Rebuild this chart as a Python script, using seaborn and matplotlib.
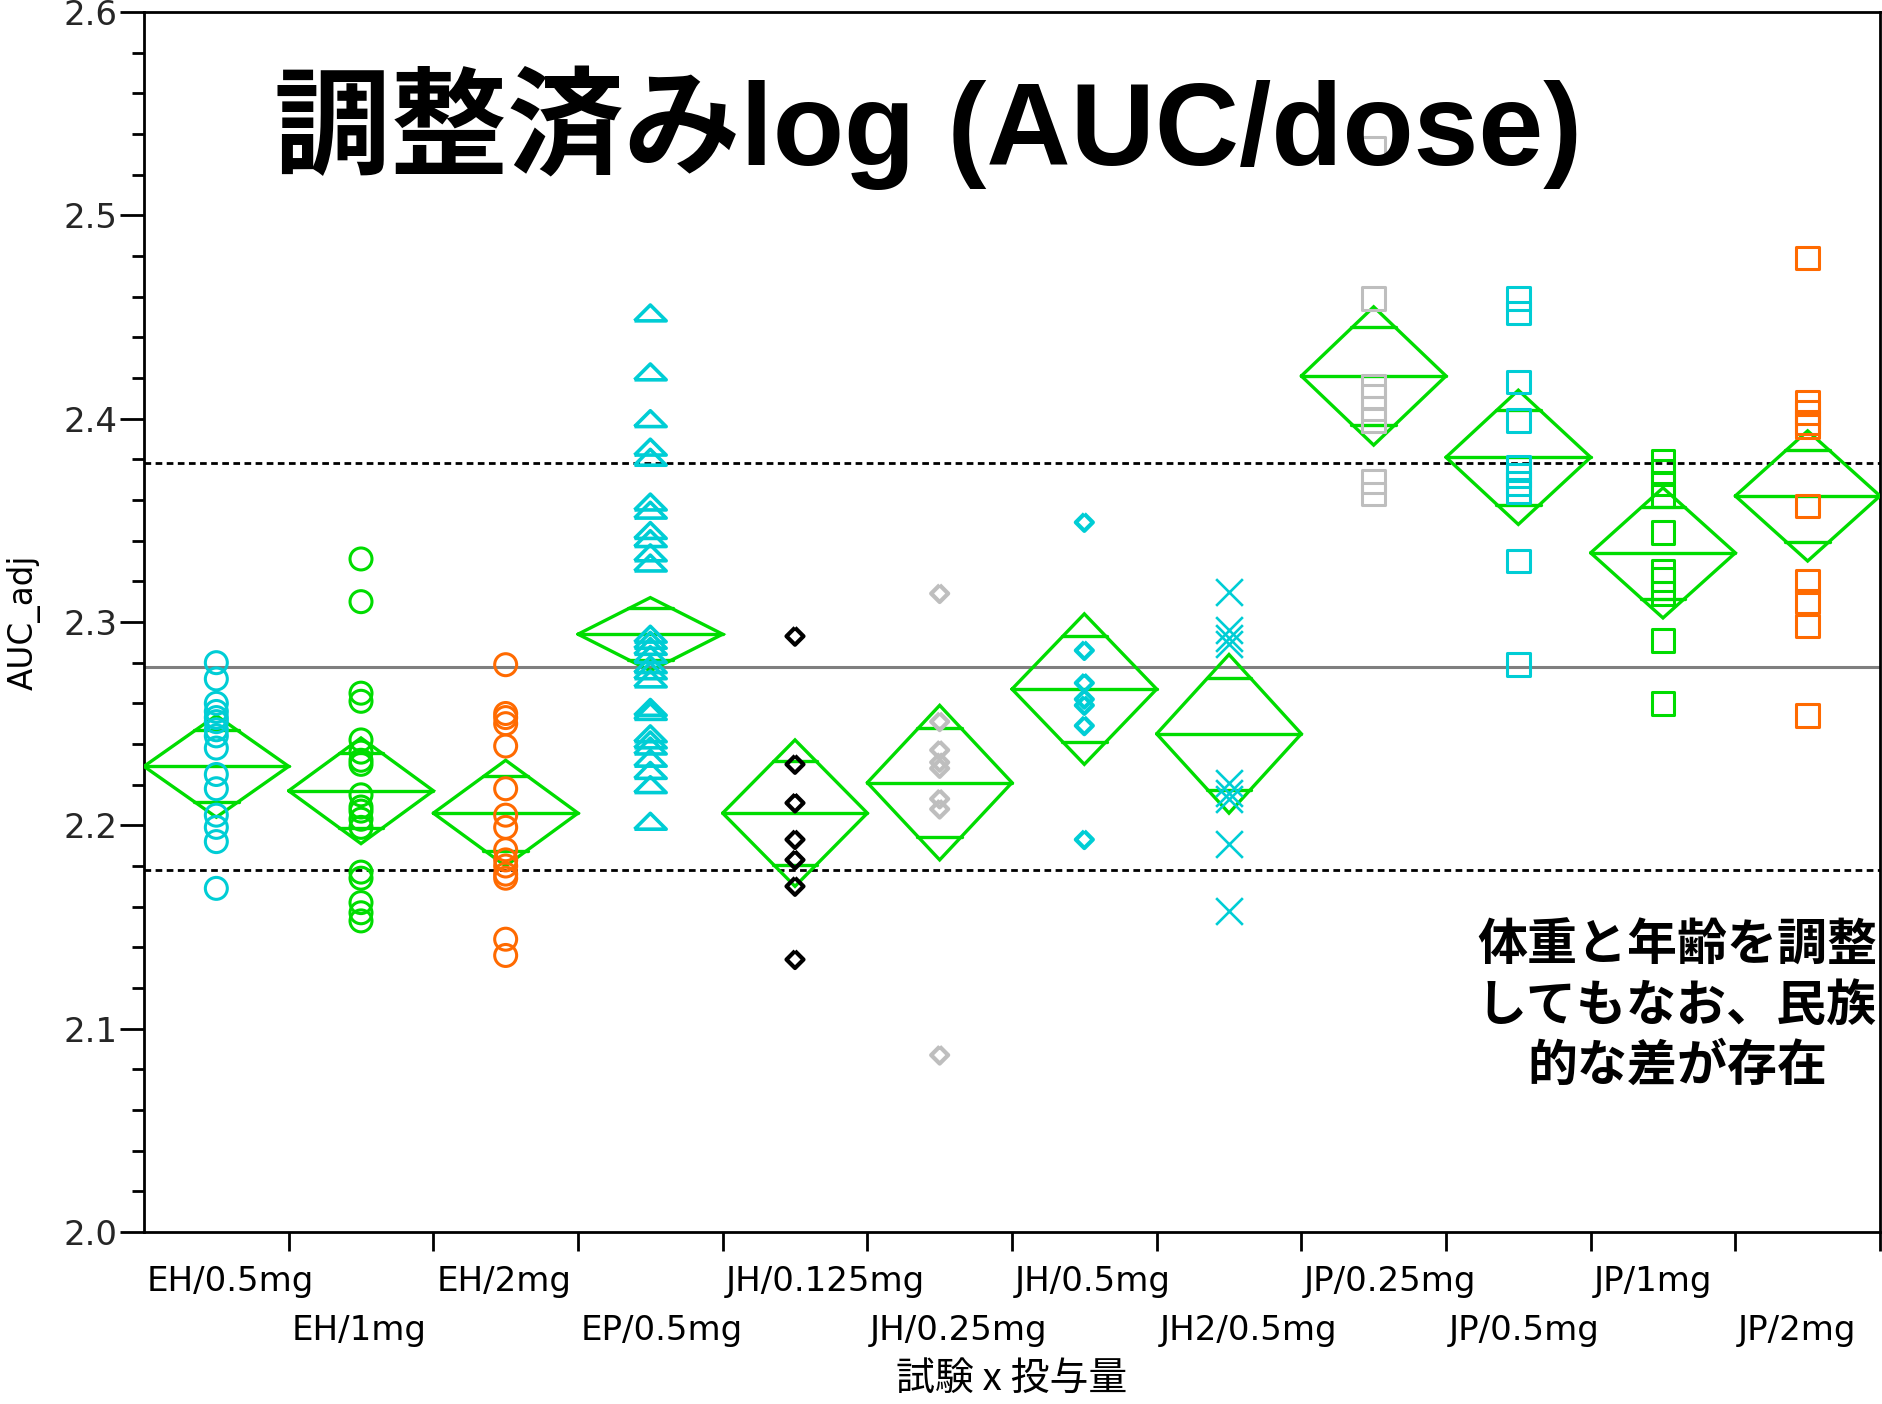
import numpy as np
import pandas as pd
import matplotlib
matplotlib.use("Agg")
import matplotlib.pyplot as plt
import seaborn as sns

# ---- categories (study x dose) ----
groups = ["EH/0.5mg", "EH/1mg", "EH/2mg", "EP/0.5mg", "JH/0.125mg", "JH/0.25mg",
          "JH/0.5mg", "JH2/0.5mg", "JP/0.25mg", "JP/0.5mg", "JP/1mg", "JP/2mg"]

# ---- adjusted log(AUC/dose) per subject ----
eh_05 = [2.280, 2.272, 2.260, 2.256, 2.253, 2.251, 2.247, 2.244, 2.238, 2.225,
         2.218, 2.205, 2.199, 2.192, 2.169]
eh_1 = [2.331, 2.310, 2.265, 2.261, 2.242, 2.236, 2.232, 2.230, 2.215, 2.209,
        2.207, 2.203, 2.199, 2.177, 2.174, 2.162, 2.157, 2.153]
eh_2 = [2.279, 2.255, 2.253, 2.250, 2.239, 2.218, 2.205, 2.199, 2.188, 2.183,
        2.180, 2.176, 2.174, 2.144, 2.136]
ep_05 = [2.452, 2.423, 2.400, 2.386, 2.381, 2.359, 2.355, 2.345, 2.341, 2.334,
         2.329, 2.294, 2.291, 2.288, 2.284, 2.279, 2.276, 2.272, 2.258, 2.256,
         2.245, 2.242, 2.239, 2.233, 2.227, 2.220, 2.202]
jh_0125 = [2.293, 2.230, 2.211, 2.193, 2.183, 2.170, 2.134]
jh_025 = [2.314, 2.251, 2.237, 2.231, 2.228, 2.213, 2.208, 2.087]
jh_05 = [2.349, 2.286, 2.270, 2.262, 2.259, 2.249, 2.193]
jh2_05 = [2.315, 2.296, 2.292, 2.289, 2.221, 2.216, 2.213, 2.191, 2.158]
jp_025 = [2.533, 2.459, 2.416, 2.411, 2.405, 2.399, 2.369, 2.363]
jp_05 = [2.459, 2.452, 2.418, 2.399, 2.376, 2.372, 2.368, 2.364, 2.330, 2.279]
jp_1 = [2.379, 2.374, 2.368, 2.362, 2.344, 2.325, 2.321, 2.314, 2.291, 2.260]
jp_2 = [2.479, 2.408, 2.403, 2.398, 2.396, 2.357, 2.320, 2.310, 2.298, 2.254]

# ---- means diamonds: group mean and 95% CI half-width ----
group_means = [2.229, 2.217, 2.206, 2.294, 2.206, 2.221, 2.267, 2.245,
               2.421, 2.381, 2.334, 2.362]
group_ci = [0.025, 0.026, 0.026, 0.018, 0.036, 0.038, 0.037, 0.039,
            0.034, 0.033, 0.032, 0.032]

# ---- reference lines ----
grand_mean = 2.278
band = 0.1

title = "調整済みlog (AUC/dose)"
note = "体重と年齢を調整\nしてもなお、民族\n的な差が存在"
x_title = "試験 x 投与量"
y_title = "AUC_adj"

CYAN = "#00CDD5"
GREEN = "#00DC00"
ORANGE = "#FF6A00"
LGRAY = "#BEBEBE"
BLACK = "#000000"

tri = [(-1, -0.5), (1, -0.5), (0, 0.5), (-1, -0.5)]
dia = [(0, 1), (1, 0), (0, -1), (-1, 0), (0, 1)]

circle_style = dict(marker="o", s=250, linewidth=2.2)
tri_style = dict(marker=tri, s=520, linewidth=2.6)
dia_style = dict(marker=dia, s=150, linewidth=3.0)
cross_style = dict(marker="x", s=370, linewidth=1.9)
square_style = dict(marker="s", s=265, linewidth=2.2)

series = [
    (eh_05, CYAN, circle_style),
    (eh_1, GREEN, circle_style),
    (eh_2, ORANGE, circle_style),
    (ep_05, CYAN, tri_style),
    (jh_0125, BLACK, dia_style),
    (jh_025, LGRAY, dia_style),
    (jh_05, CYAN, dia_style),
    (jh2_05, CYAN, cross_style),
    (jp_025, LGRAY, square_style),
    (jp_05, CYAN, square_style),
    (jp_1, GREEN, square_style),
    (jp_2, ORANGE, square_style),
]

sns.set_theme(style="white")
plt.rcParams["font.family"] = ["DejaVu Sans", "Noto Sans CJK JP"]

W, H = 1883, 1404
fig = plt.figure(figsize=(W / 100, H / 100), dpi=100)
ax = fig.add_axes([144 / W, 1 - 1232 / H, (1880 - 144) / W, 1220 / H])

# reference lines: grand mean and +/- band
ax.axhline(grand_mean, color="#7F7F7F", lw=2.2, zorder=1)
for off in (-band, band):
    ax.axhline(grand_mean + off, color=BLACK, lw=2.0, ls=(0, (2.4, 1.6)), zorder=1)

# means diamonds
half_w = 0.5
for i, (m, c) in enumerate(zip(group_means, group_ci)):
    ax.plot([i - half_w, i, i + half_w, i, i - half_w], [m, m + c, m, m - c, m],
            color=GREEN, lw=2.4, zorder=3, solid_joinstyle="miter")
    ax.plot([i - half_w, i + half_w], [m, m], color=GREEN, lw=2.4, zorder=3)
    h = c / np.sqrt(2)
    hw = half_w * (1 - 1 / np.sqrt(2)) * 1.05
    for yy in (m + h, m - h):
        ax.plot([i - hw, i + hw], [yy, yy], color=GREEN, lw=2.4, zorder=3)

# subject points
for i, (g, (vals, col, style)) in enumerate(zip(groups, series)):
    d = pd.DataFrame({"pos": np.full(len(vals), i), "auc": vals, "group": g})
    if style["marker"] == "x":
        sns.scatterplot(data=d, x="pos", y="auc", color=col, ax=ax, zorder=4,
                        legend=False, **style)
    else:
        sns.scatterplot(data=d, x="pos", y="auc", color=col, facecolor="none",
                        edgecolor=col, ax=ax, zorder=4, legend=False, **style)

ax.set_xlim(-0.5, len(groups) - 0.5)
ax.set_ylim(2.0, 2.6)
ax.set_xlabel("")
ax.set_ylabel("")

ax.set_xticks(np.arange(len(groups)) + 0.5)
ax.set_xticklabels([])
ax.set_yticks(np.arange(2.0, 2.61, 0.1))
ax.set_yticks(np.arange(2.0, 2.6, 0.02), minor=True)
ax.set_yticklabels([f"{v:.1f}" for v in np.arange(2.0, 2.61, 0.1)])
ax.tick_params(axis="x", which="major", direction="out", length=14, width=2,
               color=BLACK, bottom=True)
ax.tick_params(axis="y", which="major", direction="out", length=17, width=2,
               color=BLACK, pad=2, labelsize=24.5, left=True)
ax.tick_params(axis="y", which="minor", direction="out", length=9, width=2,
               color=BLACK, left=True)

for sp in ax.spines.values():
    sp.set_visible(True)
    sp.set_color(BLACK)
    sp.set_linewidth(2)

# staggered category labels, left-aligned at each category's left boundary
xt = ax.get_xaxis_transform()
for i, g in enumerate(groups):
    yrow = -0.0480 if i % 2 == 0 else -0.0885
    ax.text(i - 0.5 + 0.02, yrow, g, transform=xt, ha="left", va="baseline",
            fontsize=24.5, color=BLACK)

ax.text(0.5, -0.1205, x_title, transform=ax.transAxes, ha="center", va="center",
        fontsize=28, family=["Noto Sans CJK JP", "DejaVu Sans"], color=BLACK)
ax.text(-0.0691, 0.5, y_title, transform=ax.transAxes, ha="center", va="center",
        rotation=90, fontsize=23.5, color=BLACK)

ax.text(0.4516, 0.875, title, transform=ax.transAxes, ha="center", va="baseline",
        fontsize=84, fontweight="bold",
        family=["Liberation Sans", "Noto Sans CJK JP"], color=BLACK, zorder=5)
ax.text(0.883, 0.185, note, transform=ax.transAxes, ha="center", va="center",
        multialignment="center", fontsize=36, fontweight="bold",
        family=["Noto Sans CJK JP", "DejaVu Sans"], linespacing=1.22,
        color=BLACK, zorder=5)

fig.savefig("out.png", dpi=100)
